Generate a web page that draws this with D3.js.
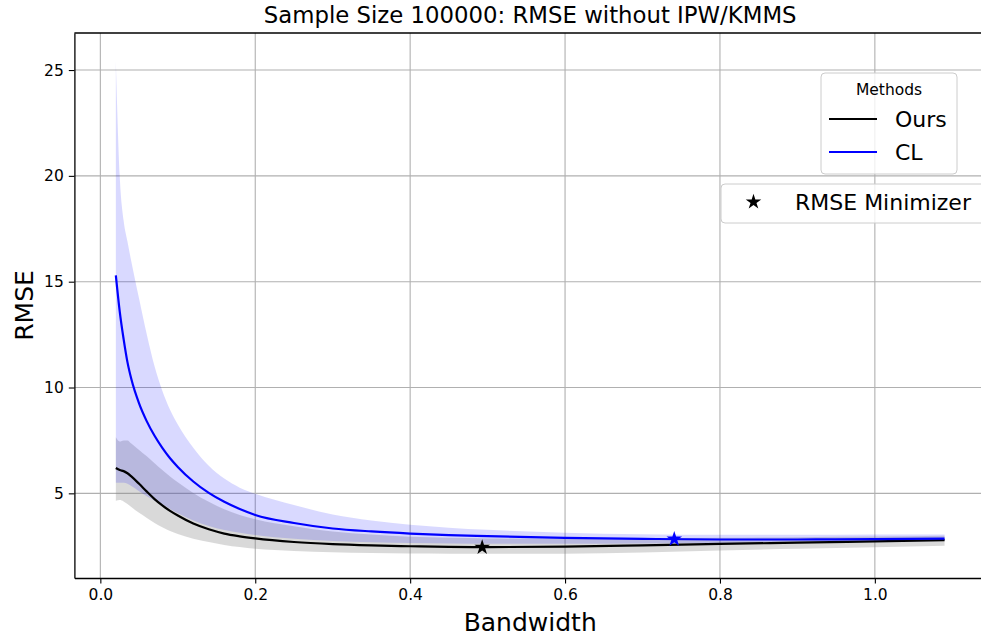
<!DOCTYPE html>
<html>
<head>
<meta charset="utf-8">
<script src="https://cdn.jsdelivr.net/npm/d3@7"></script>
<style>
  body { margin: 0; background: #fff; }
  svg text { font-family: "DejaVu Sans", sans-serif; }
</style>
</head>
<body>
<svg id="chart" width="981" height="640"></svg>
<script>
// bandwidth grid
const bandwidth = [0.02, 0.025, 0.03, 0.035, 0.04, 0.05, 0.06, 0.07, 0.08, 0.09, 0.10,
  0.12, 0.14, 0.16, 0.18, 0.20, 0.25, 0.30, 0.35, 0.40, 0.45, 0.50, 0.60, 0.70,
  0.80, 0.90, 1.00, 1.09];

// Ours (black) mean RMSE and its band
const oursMean = [6.2, 6.1, 6.05, 5.95, 5.8, 5.45, 5.08, 4.73, 4.43, 4.17, 3.95,
  3.57, 3.3, 3.1, 2.97, 2.87, 2.7, 2.6, 2.54, 2.5, 2.47, 2.46, 2.48, 2.54,
  2.61, 2.67, 2.73, 2.79];
const oursUpper = [7.65, 7.45, 7.5, 7.5, 7.35, 7.05, 6.75, 6.42, 6.1, 5.8, 5.52,
  5.02, 4.6, 4.25, 3.98, 3.78, 3.45, 3.2, 3.05, 2.95, 2.9, 2.87, 2.85, 2.87,
  2.9, 2.93, 2.96, 3.0];
const oursLower = [4.65, 4.68, 4.62, 4.5, 4.35, 4.08, 3.84, 3.6, 3.4, 3.22, 3.08,
  2.86, 2.7, 2.56, 2.46, 2.38, 2.28, 2.22, 2.18, 2.16, 2.15, 2.14, 2.15, 2.2,
  2.3, 2.38, 2.45, 2.52];

// CL (blue) mean RMSE and its band
const clMean = [15.3, 13.6, 12.3, 11.2, 10.4, 9.25, 8.4, 7.72, 7.15, 6.66, 6.25,
  5.56, 5.02, 4.6, 4.26, 3.98, 3.6, 3.34, 3.2, 3.1, 3.03, 2.98, 2.9, 2.85,
  2.82, 2.82, 2.84, 2.86];
const clUpper = [25.4, 20.0, 17.9, 16.9, 15.95, 14.2, 12.5, 11.0, 9.85, 8.95, 8.25,
  7.15, 6.3, 5.7, 5.27, 4.98, 4.45, 4.0, 3.72, 3.52, 3.38, 3.28, 3.14, 3.07,
  3.04, 3.04, 3.05, 3.06];
const clLower = [5.5, 5.5, 5.5, 5.45, 5.35, 5.1, 4.86, 4.65, 4.48, 4.26, 4.06,
  3.72, 3.46, 3.27, 3.14, 3.03, 2.85, 2.75, 2.69, 2.65, 2.63, 2.62, 2.62, 2.63,
  2.65, 2.68, 2.72, 2.75];

// RMSE minimizers (bandwidth, rmse)
const minimizerX = [0.493, 0.741];
const minimizerY = [2.45, 2.84];
const minimizerColor = ["black", "blue"];

const xTicks = [0.0, 0.2, 0.4, 0.6, 0.8, 1.0];
const yTicks = [5, 10, 15, 20, 25];

const svg = d3.select("#chart");
const plot = { left: 74.4, right: 986, top: 33, bottom: 578 };

// matplotlib style 5% margins on x
const xPad = (d3.max(bandwidth) - d3.min(bandwidth)) * 0.05;
const x = d3.scaleLinear()
  .domain([d3.min(bandwidth) - xPad, d3.max(bandwidth) + xPad])
  .range([plot.left, plot.right]);
const y = d3.scaleLinear()
  .domain([1.0, 26.75])
  .range([plot.bottom, plot.top]);

const rows = bandwidth.map((b, i) => ({
  b: b,
  om: oursMean[i], ou: oursUpper[i], ol: oursLower[i],
  cm: clMean[i], cu: clUpper[i], cl: clLower[i]
}));

// grid
const grid = svg.append("g").attr("stroke", "#b0b0b0").attr("stroke-width", 1.1);
grid.selectAll(".vg").data(xTicks).join("line")
  .attr("x1", (d) => x(d)).attr("x2", (d) => x(d))
  .attr("y1", plot.top).attr("y2", plot.bottom);
grid.selectAll(".hg").data(yTicks).join("line")
  .attr("x1", plot.left).attr("x2", plot.right)
  .attr("y1", (d) => y(d)).attr("y2", (d) => y(d));

// bands
const band = (lo, hi) => d3.area()
  .x((d) => x(d.b)).y0((d) => y(d[lo])).y1((d) => y(d[hi]))
  .curve(d3.curveMonotoneX);
svg.append("path").datum(rows).attr("d", band("ol", "ou"))
  .attr("fill", "gray").attr("fill-opacity", 0.3);
svg.append("path").datum(rows).attr("d", band("cl", "cu"))
  .attr("fill", "blue").attr("fill-opacity", 0.15);

// mean lines
const line = (key) => d3.line()
  .x((d) => x(d.b)).y((d) => y(d[key]))
  .curve(d3.curveMonotoneX);
svg.append("path").datum(rows).attr("d", line("om"))
  .attr("fill", "none").attr("stroke", "black").attr("stroke-width", 2.2);
svg.append("path").datum(rows).attr("d", line("cm"))
  .attr("fill", "none").attr("stroke", "blue").attr("stroke-width", 2.2);

// minimizer stars
const star = d3.symbol().type(d3.symbolStar).size(75);
svg.selectAll(".star").data(minimizerX).join("path")
  .attr("d", star)
  .attr("transform", (d, i) => `translate(${x(d)},${y(minimizerY[i])})`)
  .attr("fill", (d, i) => minimizerColor[i]);

// axes (tickSizeOuter after tickSize so the ends stay clean)
const xAxis = svg.append("g")
  .attr("transform", `translate(0,${plot.bottom})`)
  .call(d3.axisBottom(x).tickValues(xTicks).tickFormat(d3.format(".1f"))
    .tickSize(5.6).tickSizeOuter(0).tickPadding(5));
const yAxis = svg.append("g")
  .attr("transform", `translate(${plot.left},0)`)
  .call(d3.axisLeft(y).tickValues(yTicks).tickSize(5.6).tickSizeOuter(0).tickPadding(5));
[xAxis, yAxis].forEach((a) => {
  a.select(".domain").attr("stroke", "black").attr("stroke-width", 1.3);
  a.selectAll(".tick line").attr("stroke", "black").attr("stroke-width", 1.1);
  a.selectAll(".tick text").attr("fill", "black")
    .style("font-family", "DejaVu Sans").style("font-size", "15.5px");
});

// top spine
svg.append("line")
  .attr("x1", plot.left).attr("x2", plot.right)
  .attr("y1", plot.top).attr("y2", plot.top)
  .attr("stroke", "black").attr("stroke-width", 1.3);

// titles
svg.append("text").attr("x", (plot.left + plot.right) / 2).attr("y", 23)
  .attr("text-anchor", "middle").style("font-size", "22.8px")
  .text("Sample Size 100000: RMSE without IPW/KMMS");
svg.append("text").attr("x", (plot.left + plot.right) / 2).attr("y", 631)
  .attr("text-anchor", "middle").style("font-size", "25px")
  .text("Bandwidth");
svg.append("text")
  .attr("transform", `translate(33,${(plot.top + plot.bottom) / 2}) rotate(-90)`)
  .attr("text-anchor", "middle").style("font-size", "25px")
  .text("RMSE");

// legend: methods
const methods = ["Ours", "CL"];
const methodColor = ["black", "blue"];
const leg = svg.append("g").attr("transform", "translate(821,73)");
leg.append("rect").attr("width", 136).attr("height", 101).attr("rx", 4)
  .attr("fill", "white").attr("fill-opacity", 0.8)
  .attr("stroke", "#cccccc").attr("stroke-width", 1);
leg.append("text").attr("x", 68).attr("y", 22).attr("text-anchor", "middle")
  .style("font-size", "15.5px").text("Methods");
methods.forEach((m, i) => {
  const yy = 46 + i * 33;
  leg.append("line").attr("x1", 8).attr("x2", 56).attr("y1", yy).attr("y2", yy)
    .attr("stroke", methodColor[i]).attr("stroke-width", 2.2);
  leg.append("text").attr("x", 74).attr("y", yy + 8).style("font-size", "22px").text(m);
});

// legend: minimizer
const leg2 = svg.append("g").attr("transform", "translate(721,184)");
leg2.append("rect").attr("width", 280).attr("height", 39).attr("rx", 4)
  .attr("fill", "white").attr("fill-opacity", 0.8)
  .attr("stroke", "#cccccc").attr("stroke-width", 1);
leg2.append("path").attr("d", star).attr("transform", "translate(32.5,18)").attr("fill", "black");
leg2.append("text").attr("x", 74).attr("y", 25.5).style("font-size", "22px").text("RMSE Minimizer");
</script>
</body>
</html>
